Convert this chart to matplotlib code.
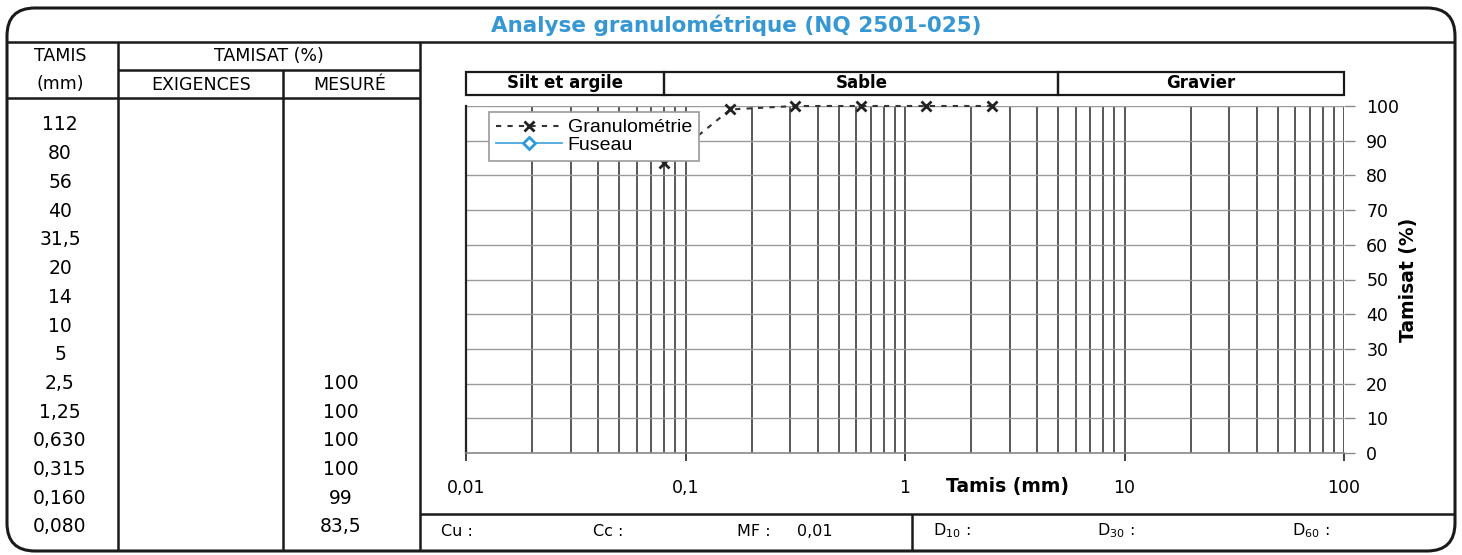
import matplotlib
matplotlib.use("Agg")
import matplotlib.pyplot as plt
from matplotlib.patches import FancyBboxPatch, Rectangle
from matplotlib.ticker import FixedLocator, LogLocator, NullFormatter
import matplotlib.transforms as mtransforms

# ---------------- data ----------------
tamis_labels = ['112', '80', '56', '40', '31,5', '20', '14', '10', '5',
                '2,5', '1,25', '0,630', '0,315', '0,160', '0,080']
tamis_mm = [112, 80, 56, 40, 31.5, 20, 14, 10, 5, 2.5, 1.25, 0.63, 0.315, 0.16, 0.08]
exigences = [''] * 15
mesure = [None] * 9 + [100, 100, 100, 100, 99, 83.5]
mesure_labels = ['', '', '', '', '', '', '', '', '', '100', '100', '100', '100', '99', '83,5']
fuseau_x = []
fuseau_y = []
band_names = ['Silt et argile', 'Sable', 'Gravier']
band_lo = [0.01, 0.08, 5]
band_hi = [0.08, 5, 100]
x_ticks = [0.01, 0.1, 1, 10, 100]
x_tick_labels = ['0,01', '0,1', '1', '10', '100']
y_ticks = [0, 10, 20, 30, 40, 50, 60, 70, 80, 90, 100]
bottom_labels = ['Cu :', 'Cc :', 'MF :', r'D$_{10}$ :', r'D$_{30}$ :', r'D$_{60}$ :']
mf_value = '0,01'

W, H = 1462, 555
fig = plt.figure(figsize=(W / 100, H / 100), dpi=100)
fig.patch.set_facecolor('white')

FONT = 'DejaVu Sans'
dark = '#1a1a1a'

# --------------- form overlay (pixel coords) ---------------
ov = fig.add_axes([0, 0, 1, 1], zorder=0)
ov.set_xlim(0, W)
ov.set_ylim(H, 0)
ov.axis('off')

frame = FancyBboxPatch((7, 8), 1448, 543, boxstyle='round,pad=0,rounding_size=28',
                       fill=False, edgecolor=dark, linewidth=2.2)
ov.add_patch(frame)

def hline(y, x0, x1, lw=1.8):
    ov.plot([x0, x1], [y, y], color=dark, lw=lw, solid_capstyle='butt')

def vline(x, y0, y1, lw=1.8):
    ov.plot([x, x], [y0, y1], color=dark, lw=lw, solid_capstyle='butt')

hline(42, 7, 1455)
hline(70, 118, 420)
hline(98, 7, 420)
vline(118, 42, 551)
vline(283, 70, 551)
vline(420, 42, 551)
hline(514, 420, 1455)
vline(912, 514, 551)

ov.text(736, 25, 'Analyse granulométrique (NQ 2501-025)', color='#3597d3',
        fontsize=15.5, fontweight='bold', ha='center', va='center', family=FONT)

hdr_fs = 12.5
ov.text(60, 56, 'TAMIS', ha='center', va='center', fontsize=hdr_fs, family=FONT)
ov.text(60, 84, '(mm)', ha='center', va='center', fontsize=hdr_fs, family=FONT)
ov.text(269, 56, 'TAMISAT (%)', ha='center', va='center', fontsize=hdr_fs, family=FONT)
ov.text(201, 85, 'EXIGENCES', ha='center', va='center', fontsize=hdr_fs, family=FONT)
ov.text(350, 85, 'MESURÉ', ha='center', va='center', fontsize=hdr_fs, family=FONT)

row_y0, row_dy = 125, (527 - 125) / 14
for i, lab in enumerate(tamis_labels):
    y = row_y0 + i * row_dy
    ov.text(60, y, lab, ha='center', va='center', fontsize=13.5, family=FONT)
    if exigences[i]:
        ov.text(201, y, exigences[i], ha='center', va='center', fontsize=13.5, family=FONT)
    if mesure_labels[i]:
        ov.text(341, y, mesure_labels[i], ha='center', va='center', fontsize=13.5, family=FONT)

bx = [441, 593, 737, 933, 1097, 1292]
for x, lab in zip(bx, bottom_labels):
    ov.text(x, 531, lab, ha='left', va='center', fontsize=11.5, family=FONT)
ov.text(797, 531, mf_value, ha='left', va='center', fontsize=11.5, family=FONT)

# --------------- chart ---------------
L, R, T, B = 466, 1344, 106, 453
ax = fig.add_axes([L / W, (H - B) / H, (R - L) / W, (B - T) / H], zorder=2)
ax.set_facecolor('none')
ax.set_xscale('log')
ax.set_xlim(0.01, 100)
ax.set_ylim(0, 100)

ax.xaxis.set_major_locator(FixedLocator(x_ticks))
ax.set_xticklabels(x_tick_labels)
ax.xaxis.set_minor_locator(LogLocator(base=10, subs=range(2, 10)))
ax.xaxis.set_minor_formatter(NullFormatter())
ax.tick_params(axis='x', which='major', direction='out', length=6, width=1.3,
               color='#333333', pad=13, labelsize=12.5)
ax.tick_params(axis='x', which='minor', length=0)
ax.grid(True, axis='x', which='both', color='#3c3c3c', lw=1.2)

ax.yaxis.tick_right()
ax.set_yticks(y_ticks)
ax.tick_params(axis='y', direction='out', length=8, width=1, color='#8a8a8a',
               pad=8, labelsize=12.5)
ax.grid(True, axis='y', which='major', color='#9a9a9a', lw=1)
ax.set_axisbelow(True)

for s in ['top', 'right']:
    ax.spines[s].set_visible(False)
ax.spines['left'].set_color('#222222')
ax.spines['left'].set_linewidth(1.6)
ax.spines['bottom'].set_color('#8a8a8a')
ax.spines['bottom'].set_linewidth(1.2)

for lab in ax.get_xticklabels() + ax.get_yticklabels():
    lab.set_family(FONT)

ax.set_xlabel('Tamis (mm)', fontsize=13.5, fontweight='bold', family=FONT)
ax.xaxis.set_label_coords((1007 - L) / (R - L), -0.068)
ax.yaxis.set_label_position('right')
ax.set_ylabel('Tamisat (%)', fontsize=13.5, fontweight='bold', family=FONT)
ax.yaxis.set_label_coords((1399 - L) / (R - L), 0.5)

# data
px = [t for t, m in zip(tamis_mm, mesure) if m is not None]
py = [m for m in mesure if m is not None]
ax.plot(px, py, linestyle=(0, (2.5, 3)), color='#333333', lw=1.5, marker='x',
        markersize=6.5, markeredgewidth=2, markeredgecolor='#222222',
        label='Granulométrie', clip_on=False, zorder=3)
ax.plot(fuseau_x, fuseau_y, color='#4aa8de', lw=1.3, marker='D', markersize=6,
        markerfacecolor='white', markeredgecolor='#2f9ad8', markeredgewidth=2,
        label='Fuseau')

leg = ax.legend(loc='upper left', bbox_to_anchor=((489 - L) / (R - L), (B - 112) / (B - T)),
                frameon=True, fancybox=False, framealpha=1, edgecolor='#9a9a9a',
                prop={'family': 'Liberation Sans', 'size': 14}, borderpad=0.35,
                handlelength=3.4, handletextpad=0.3, labelspacing=0.0,
                borderaxespad=0, numpoints=1)
leg.get_frame().set_linewidth(1.2)
leg.set_zorder(10)

# bands above chart
trans = mtransforms.blended_transform_factory(ax.transData, ax.transAxes)
yb0 = (B - 95) / (B - T)
yb1 = (B - 72) / (B - T)
for name, lo, hi in zip(band_names, band_lo, band_hi):
    ax.add_patch(Rectangle((lo, yb0), hi - lo, yb1 - yb0, transform=trans, fill=False,
                           edgecolor=dark, lw=1.6, clip_on=False))
    xm = (lo * hi) ** 0.5
    ax.text(xm, (yb0 + yb1) / 2, name, transform=trans, ha='center', va='center',
            fontsize=12, fontweight='bold', family=FONT)

fig.savefig('out.png', dpi=100, facecolor='white')
